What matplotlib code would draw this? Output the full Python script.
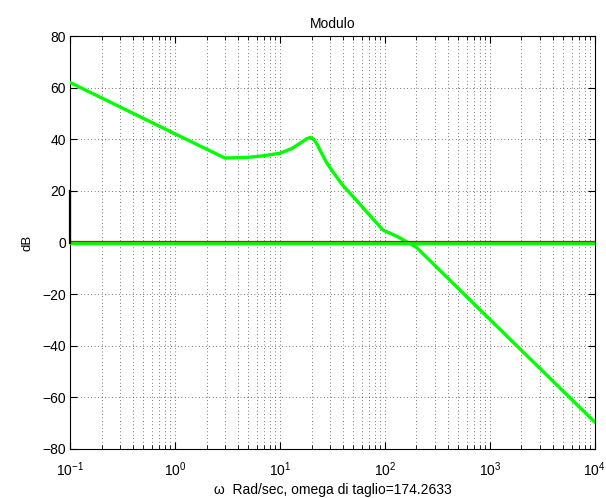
import matplotlib
matplotlib.use("Agg")
import matplotlib.pyplot as plt
from matplotlib.ticker import LogLocator, LogFormatterMathtext, MultipleLocator

plt.rcParams['font.family'] = ['Liberation Sans', 'DejaVu Sans']
plt.rcParams['mathtext.fontset'] = 'custom'
plt.rcParams['mathtext.rm'] = 'Liberation Sans'
plt.rcParams['mathtext.it'] = 'Liberation Sans'
plt.rcParams['axes.unicode_minus'] = True

# Magnitude curve (rad/s, dB)
omega = [0.1, 0.3, 1.0, 3.0, 5.0, 7.0, 10.0, 13.0, 16.0, 18.0, 19.5, 21.0, 22.5,
         25.0, 28.0, 32.0, 40.0, 54.0, 70.0, 96.0, 130.0, 161.0, 200.0, 1000.0, 10000.0]
mag_db = [62.0, 52.5, 42.1, 32.7, 33.0, 33.6, 34.6, 36.4, 38.8, 40.2, 40.7, 40.0, 38.2,
          34.5, 30.8, 27.3, 22.0, 16.2, 11.0, 4.8, 2.4, 0.3, -1.9, -29.8, -69.6]
zero_db = 0.0
red_ref_db = 0.5
bar_omega = 0.1
bar_range = [0, 20]

title = "Modulo"
ylabel = "dB"
xlabel = "\u03c9  Rad/sec, omega di taglio=174.2633"
xlim = [0.1, 1e4]
ylim = [-80, 80]

fig = plt.figure(figsize=(6.06, 4.98), dpi=100)
ax = fig.add_axes([0.1155, 0.0984, 0.866, 0.8293])

ax.set_xscale('log')
ax.plot(xlim, [zero_db, zero_db], color=(0, 1, 0), lw=2.4, zorder=3)
ax.plot(omega, mag_db, color=(0, 1, 0), lw=2.4, zorder=5, solid_joinstyle='round')
ax.plot(xlim, [red_ref_db, red_ref_db], color=(1, 0, 0), lw=0.9, zorder=6)
ax.plot([bar_omega, bar_omega], bar_range, color='black', lw=1.6, zorder=7, clip_on=False)

ax.set_xlim(xlim)
ax.set_ylim(ylim)
ax.yaxis.set_major_locator(MultipleLocator(20))
ax.xaxis.set_major_locator(LogLocator(base=10, numticks=10))
ax.xaxis.set_minor_locator(LogLocator(base=10, subs=range(2, 10), numticks=20))
ax.xaxis.set_major_formatter(LogFormatterMathtext())

ax.grid(True, which='major', axis='both', color='black', linestyle=(0, (1, 4)), lw=0.5)
ax.grid(True, which='minor', axis='x', color='black', linestyle=(0, (1, 4)), lw=0.5)

ax.tick_params(which='both', direction='in', top=True, right=True, labelsize=10)
ax.tick_params(which='major', length=5)
ax.tick_params(which='minor', length=3)
ax.tick_params(axis='x', which='major', pad=8)
ax.tick_params(axis='y', which='major', pad=3)
for s in ax.spines.values():
    s.set_linewidth(0.8)

ax.set_title(title, fontsize=10, pad=6)
ax.set_ylabel(ylabel, fontsize=9.5, labelpad=6)
ax.set_xlabel(xlabel, fontsize=10, labelpad=3)

fig.savefig("out.png", dpi=100)
